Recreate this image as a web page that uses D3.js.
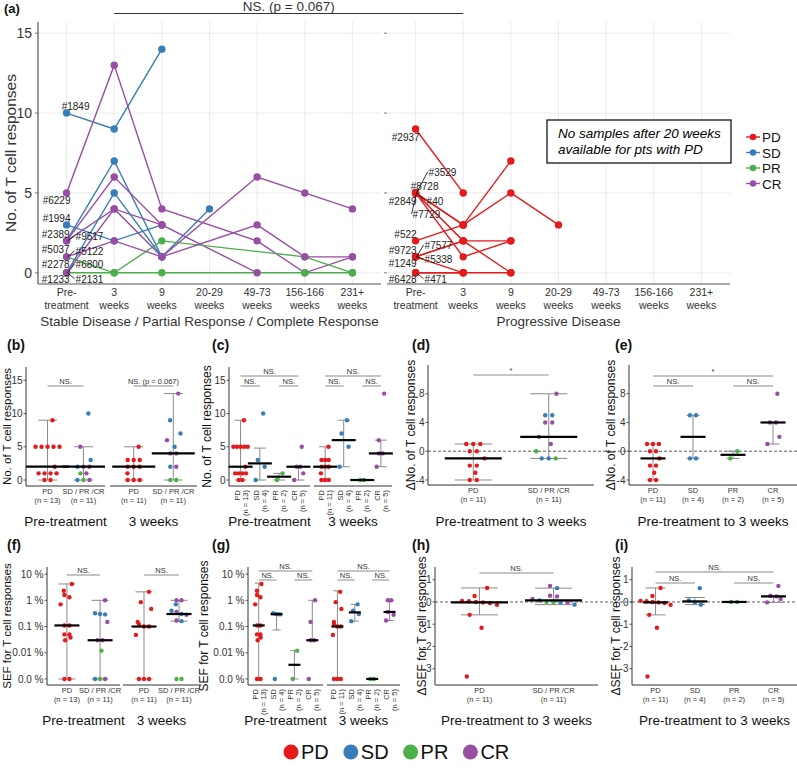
<!DOCTYPE html>
<html>
<head>
<meta charset="utf-8">
<script src="https://cdn.jsdelivr.net/npm/d3@7"></script>
<style>
  body { margin: 0; background: #fff; }
  svg { font-family: "Liberation Sans", Arial, sans-serif; }
</style>
</head>
<body>
<svg id="fig" width="797" height="769"></svg>
<script>
'use strict';

// ---------- data ----------
const groupNames = ['PD', 'SD', 'PR', 'CR'];
const groupColors = ['#E41A1C', '#377EB8', '#4DAF4A', '#984EA3'];
const timepoints = ['Pre-|treatment', '3|weeks', '9|weeks', '20-29|weeks', '49-73|weeks', '156-166|weeks', '231+|weeks'];

// (a) left: SD / PR / CR patients, no. of T cell responses per timepoint (null = no sample)
const respIds = ['#1849', '#6229', '#1994', '#2389', '#9517', '#5037', '#5122', '#2278', '#6800', '#1233', '#2131'];
const respGroup = ['SD', 'CR', 'SD', 'SD', 'CR', 'CR', 'PR', 'CR', 'PR', 'SD', 'CR'];
const respSeries = [
  [10, 9, 14, null, null, null, null],
  [5, 13, 4, null, 2, 0, 1],
  [3, 2, 3, null, null, null, null],
  [2, 7, 1, 4, null, null, null],
  [2, 6, 3, null, 0, null, null],
  [2, 4, 3, null, null, null, null],
  [1, 0, 2, null, null, 1, 0],
  [1, 2, 1, null, 3, 1, 1],
  [0, 0, 0, null, null, 0, 0],
  [0, 5, 1, null, null, null, null],
  [0, 4, 1, null, 6, 5, 4]
];

// (a) right: PD patients
const pdIds = ['#2937', '#3529', '#8728', '#2849', '#40', '#7729', '#522', '#7577', '#9723', '#5338', '#1249', '#6428', '#471'];
const pdSeries = [
  [9, 5],
  [5, 3, 7],
  [5, 3, 5, 3],
  [5, 1, 2],
  [5, 2, 0],
  [5],
  [2, 3],
  [1, 2, 2],
  [1, 0],
  [1, 2],
  [1],
  [0, 0, 0],
  [0, 0]
];

// whiskers (low, high)
const whiskB = [[0, 9], [0, 5], [0, 5], [0, 13]];
const whiskC = [[0, 9], [0, 4.8], [0, 1], [0, 2], [0, 5], [2, 9], [0, 0], [2, 6]];
const whiskD = [[-4, 1], [-1, 8]];
const whiskE = [[-4, 1], [-1, 5], [-1, 0], [1, 4]];

// SEF for T cell responses (%)
const pdPreSef = [4.2, 2.3, 1.6, 1.3, 0.7, 0.11, 0.11, 0.05, 0.05, 0.038, 0.03, 0, 0];
const sdPreSef = [0.3, 0.32, 0.29, 0];
const prPreSef = [0.012, 0];
const crPreSef = [1.0, 0.15, 0.03, 0.03, 0];
const pd3wSef = [2.1, 0.85, 0.47, 0.15, 0.12, 0.1, 0.1, 0.048, 0, 0, 0];
const sd3wSef = [0.7, 0.4, 0.3, 0.16];
const pr3wSef = [0, 0];
const cr3wSef = [1.0, 1.0, 0.36, 0.28, 0.17];
const whiskF = [[0, 4.2], [0, 1], [0, 2.1], [0.16, 1]];
const whiskG = [[0, 4.5], [0.074, 0.33], [0, 0.012], [0.03, 1], [0, 2.3], [0.16, 0.7], [0, 0], [0.17, 1]];

// change in SEF, pre-treatment to 3 weeks
const pdDeltaSef = [0.63, 0.27, 0.05, 0.03, 0.0, -0.02, -0.05, -0.13, -0.58, -1.16, -3.35];
const sdDeltaSef = [0.62, 0.07, -0.02, -0.12];
const prDeltaSef = [0, 0];
const crDeltaSef = [0.72, 0.28, 0.25, 0.13, -0.02];
const whiskH = [[-0.58, 0.63], [-0.12, 0.62]];
const whiskI = [[-0.58, 0.63], [-0.12, 0.2], [0, 0], [-0.02, 0.27]];

// ---------- helpers ----------
const svg = d3.select('#fig');
const colorOf = (g) => groupColors[groupNames.indexOf(g)];
const ink = '#333';

// label placement for (a): [dx, dy, anchor, leader]
const respLabelPos = [
  [9, -3, 'middle', 0], [-10, 11, 'middle', 0], [-10, -3, 'middle', 0], [3, -3, 'end', 0],
  [9, -1, 'start', 1], [3, 12, 'end', 0], [9, -2, 'start', 1], [3, 11, 'end', 0],
  [9, -5, 'start', 1], [3, 10, 'end', 0], [9, 10, 'start', 1]
];
const pdLabelPos = [
  [4, 12, 'end', 0], [13, -17, 'start', 1], [9, -3, 'middle', 0], [1, 12, 'end', 0],
  [11, 12, 'start', 1], [-3, 25, 'start', 1], [1, -3, 'end', 0], [9, -8, 'start', 1],
  [1, -3, 'end', 0], [9, 6, 'start', 1], [1, 10, 'end', 0], [1, 10, 'end', 0], [9, 10, 'start', 1]
];

function text(g, x, y, s, size, opts = {}) {
  return g.append('text')
    .attr('x', x).attr('y', y)
    .attr('font-size', size)
    .attr('fill', opts.fill || ink)
    .attr('text-anchor', opts.anchor || 'start')
    .attr('font-weight', opts.weight || null)
    .attr('font-style', opts.style || null)
    .text(s);
}

// ---------- panel (a) ----------
function drawPanelA() {
  const g = svg.append('g');
  const yA = d3.scaleLinear().domain([-0.7, 15.7]).range([284, 22]);
  const xL = d3.scalePoint().domain(d3.range(timepoints.length)).range([38, 381]).padding(0.6);
  const xR = d3.scalePoint().domain(d3.range(timepoints.length)).range([387, 730]).padding(0.6);
  const yTicks = [0, 5, 10, 15];

  [[xL, 38, 381], [xR, 387, 730]].forEach(([xs, x0, x1]) => {
    yTicks.forEach((t) => {
      g.append('line').attr('x1', x0).attr('x2', x1).attr('y1', yA(t)).attr('y2', yA(t))
        .attr('stroke', '#e6e6e6').attr('stroke-width', 0.8);
      g.append('line').attr('x1', x0 - 3).attr('x2', x0).attr('y1', yA(t)).attr('y2', yA(t))
        .attr('stroke', '#555').attr('stroke-width', 0.8);
    });
    timepoints.forEach((t, i) => {
      g.append('line').attr('x1', xs(i)).attr('x2', xs(i)).attr('y1', 22).attr('y2', 284)
        .attr('stroke', '#e6e6e6').attr('stroke-width', 0.8);
      const parts = t.split('|');
      text(g, xs(i), 296, parts[0], 10.5, { anchor: 'middle' });
      text(g, xs(i), 308.5, parts[1], 10.5, { anchor: 'middle' });
    });
    g.append('line').attr('x1', x0).attr('x2', x1).attr('y1', 284).attr('y2', 284)
      .attr('stroke', '#555').attr('stroke-width', 1.2);
  });
  g.append('line').attr('x1', 38).attr('x2', 38).attr('y1', 22).attr('y2', 284)
    .attr('stroke', '#555').attr('stroke-width', 1.2);
  yTicks.forEach((t) => text(g, 32, yA(t) + 5, t, 14, { anchor: 'end' }));

  text(g, 0, 0, 'No. of T cell responses', 15.5, { anchor: 'middle' })
    .attr('transform', `translate(16,${(22 + 284) / 2}) rotate(-90)`);
  text(g, (38 + 381) / 2, 326, 'Stable Disease / Partial Response / Complete Response', 13.5, { anchor: 'middle' });
  text(g, (387 + 730) / 2, 326, 'Progressive Disease', 13.5, { anchor: 'middle' });

  const line = d3.line().x((d) => d.x).y((d) => d.y);
  const toPts = (series, xs) => series.map((v, i) => ({ v, i }))
    .filter((d) => d.v != null)
    .map((d) => ({ x: xs(d.i), y: yA(d.v) }));

  const sets = [
    { ids: respIds, series: respSeries, groups: respGroup, xs: xL, lab: respLabelPos },
    { ids: pdIds, series: pdSeries, groups: pdIds.map(() => 'PD'), xs: xR, lab: pdLabelPos }
  ];
  sets.forEach((s) => {
    s.series.forEach((ser, k) => {
      g.append('path').attr('d', line(toPts(ser, s.xs)))
        .attr('fill', 'none').attr('stroke', colorOf(s.groups[k])).attr('stroke-width', 1.4);
    });
  });
  sets.forEach((s) => {
    s.series.forEach((ser, k) => {
      toPts(ser, s.xs).forEach((p) => {
        g.append('circle').attr('cx', p.x).attr('cy', p.y).attr('r', 3.7)
          .attr('fill', colorOf(s.groups[k]));
      });
    });
  });
  sets.forEach((s) => {
    s.series.forEach((ser, k) => {
      const px = s.xs(0), py = yA(ser[0]);
      const [dx, dy, anchor, leader] = s.lab[k];
      if (leader) {
        g.append('line').attr('x1', px + 1).attr('y1', py)
          .attr('x2', px + dx - 1).attr('y2', py + dy - 4)
          .attr('stroke', '#000').attr('stroke-width', 0.8);
      }
      text(g, px + dx, py + dy, s.ids[k], 10, { anchor, fill: '#222' });
    });
  });

  // significance across timepoint 3 weeks
  g.append('line').attr('x1', xL(1)).attr('x2', xR(1)).attr('y1', 13.5).attr('y2', 13.5)
    .attr('stroke', '#333').attr('stroke-width', 1);
  text(g, (xL(1) + xR(1)) / 2, 10.5, 'NS. (p = 0.067)', 13.5, { anchor: 'middle' });

  // note box
  g.append('rect').attr('x', 547).attr('y', 120).attr('width', 184).attr('height', 43)
    .attr('fill', '#fff').attr('stroke', '#000').attr('stroke-width', 1.2);
  text(g, 558, 138, 'No samples after 20 weeks', 13.5, { style: 'italic', fill: '#000' });
  text(g, 558, 153.5, 'available for pts with PD', 13.5, { style: 'italic', fill: '#000' });

  // legend
  groupNames.forEach((name, i) => {
    const yy = 137 + i * 15.5;
    g.append('line').attr('x1', 746).attr('x2', 760).attr('y1', yy).attr('y2', yy)
      .attr('stroke', groupColors[i]).attr('stroke-width', 1.4);
    g.append('circle').attr('cx', 753).attr('cy', yy).attr('r', 3.2).attr('fill', groupColors[i]);
    text(g, 762, yy + 5, name, 13.5, { fill: '#111' });
  });

  text(g, 4, 13, '(a)', 13, { weight: 'bold', fill: '#111' });
}

// ---------- dot / median panels ----------
const jitterPattern = [0.55, -0.35, 0.8, -0.7, 0.15, -0.9, 0.4, -0.2, 0.7, -0.5, 0.3, -0.6];

function layoutPoints(pts, cx, spacing, spread) {
  const sorted = pts.slice().sort((a, b) => a.py - b.py);
  const clusters = [];
  let cur = [];
  sorted.forEach((p) => {
    if (cur.length && p.py - cur[cur.length - 1].py > 2.5) { clusters.push(cur); cur = []; }
    cur.push(p);
  });
  if (cur.length) clusters.push(cur);
  clusters.forEach((cl, k) => {
    const m = cl.length;
    const shift = m === 1 ? jitterPattern[k % jitterPattern.length] * spread : 0;
    cl.forEach((p, j) => { p.px = cx + (j - (m - 1) / 2) * spacing + shift; });
  });
}

function drawDotPanel(p) {
  const g = svg.append('g');
  const tf = p.transform || ((v) => v);
  const y = d3.scaleLinear().domain(p.yDomain).range([p.bottom, p.top]);
  const ax = p.facets[0].x0;

  g.append('line').attr('x1', ax).attr('x2', ax).attr('y1', p.top).attr('y2', p.bottom)
    .attr('stroke', ink).attr('stroke-width', 1);
  p.yTicks.forEach((t, i) => {
    g.append('line').attr('x1', ax - 2.5).attr('x2', ax).attr('y1', y(t)).attr('y2', y(t))
      .attr('stroke', ink).attr('stroke-width', 0.8);
    text(g, ax - 3.5, y(t) + 3.6, p.yTickLabels ? p.yTickLabels[i] : t, 10, { anchor: 'end' });
  });
  text(g, 0, 0, p.yTitle, p.yTitleSize || 12, { anchor: 'middle', fill: '#111' })
    .attr('transform', `translate(${p.yTitleX},${(p.top + p.bottom) / 2}) rotate(-90)`);

  if (p.zeroLine) {
    g.append('line').attr('x1', ax).attr('x2', p.zeroTo).attr('y1', y(0)).attr('y2', y(0))
      .attr('stroke', ink).attr('stroke-width', 0.8).attr('stroke-dasharray', '3,2');
  }

  p.facets.forEach((f) => {
    const x = d3.scalePoint().domain(d3.range(f.cats.length)).range([f.x0, f.x1]).padding(0.6);
    g.append('line').attr('x1', f.x0).attr('x2', f.x1).attr('y1', p.bottom).attr('y2', p.bottom)
      .attr('stroke', ink).attr('stroke-width', 1);

    f.cats.forEach((c, i) => {
      const cx = x(i);
      const [lo, hi] = c.whisk;
      g.append('line').attr('x1', cx).attr('x2', cx).attr('y1', y(tf(lo))).attr('y2', y(tf(hi)))
        .attr('stroke', '#8a8a8a').attr('stroke-width', 1);
      [lo, hi].forEach((v) => {
        g.append('line').attr('x1', cx - p.capW / 2).attr('x2', cx + p.capW / 2)
          .attr('y1', y(tf(v))).attr('y2', y(tf(v)))
          .attr('stroke', '#8a8a8a').attr('stroke-width', 1);
      });

      const pts = c.vals.map((v, k) => ({ v, col: c.cols[k], py: y(tf(v)) }));
      layoutPoints(pts, cx, p.spacing, p.spread);
      pts.forEach((q) => {
        g.append('circle').attr('cx', q.px).attr('cy', q.py).attr('r', p.r).attr('fill', q.col);
      });

      const med = d3.median(c.vals.map(tf));
      g.append('line').attr('x1', cx - p.medW / 2).attr('x2', cx + p.medW / 2)
        .attr('y1', y(med)).attr('y2', y(med))
        .attr('stroke', '#000').attr('stroke-width', 2.2);

      const nLab = `(n = ${c.vals.length})`;
      if (p.rotate) {
        text(g, 0, 0, c.name, 7.5, { anchor: 'end' })
          .attr('transform', `translate(${cx - 1},${p.bottom + 4}) rotate(-90)`);
        text(g, 0, 0, nLab, 7.5, { anchor: 'end' })
          .attr('transform', `translate(${cx + 7},${p.bottom + 4}) rotate(-90)`);
      } else {
        text(g, cx, p.bottom + 8, c.name, 7.5, { anchor: 'middle' });
        text(g, cx, p.bottom + 16.5, nLab, 7.5, { anchor: 'middle' });
      }
    });

    text(g, (f.x0 + f.x1) / 2, p.titleY, f.title, 13.5, { anchor: 'middle', fill: '#111' });

    (f.sig || []).forEach((s) => {
      const ly = p.sigY[s.level];
      g.append('line').attr('x1', x(s.a)).attr('x2', x(s.b)).attr('y1', ly).attr('y2', ly)
        .attr('stroke', '#8a8a8a').attr('stroke-width', 1);
      text(g, (x(s.a) + x(s.b)) / 2, ly - 2, s.label, 7.5, { anchor: 'middle' });
    });
  });

  text(g, p.letter[1], p.letter[2], p.letter[0], 14, { weight: 'bold', fill: '#111' });
}

// values taken from panel (a)
const pdPre = pdSeries.map((s) => s[0]);
const pd3w = pdSeries.filter((s) => s[1] != null).map((s) => s[1]);
const pdDelta = pdSeries.filter((s) => s[1] != null).map((s) => s[1] - s[0]);
const byGroup = (grp, fn) => respSeries.filter((s, k) => respGroup[k] === grp && fn(s) != null).map(fn);
const respColsOrder = ['SD', 'PR', 'CR'];
const joined = (fn) => {
  const vals = [], cols = [];
  respColsOrder.forEach((grp) => byGroup(grp, fn).forEach((v) => { vals.push(v); cols.push(colorOf(grp)); }));
  return { vals, cols };
};
const pre = (s) => s[0];
const w3 = (s) => s[1];
const dlt = (s) => (s[1] == null ? null : s[1] - s[0]);
const red = (vals) => vals.map(() => colorOf('PD'));
const cat = (name, vals, grp, whisk) => ({ name, vals, cols: vals.map(() => colorOf(grp)), whisk });
const catJ = (name, j, whisk) => ({ name, vals: j.vals, cols: j.cols, whisk });
const pctT = (v) => Math.log10(Math.max(v, 0.001));
const joinSef = (a, b, c) => ({
  vals: a.concat(b, c),
  cols: a.map(() => colorOf('SD')).concat(b.map(() => colorOf('PR')), c.map(() => colorOf('CR')))
});

drawPanelA();

const countTicks = [0, 5, 10, 15];
const deltaTicks = [-4, 0, 4, 8];
const sefTicks = [-3, -2, -1, 0, 1];
const sefTickLabels = ['0.0 %', '0.01 %', '0.1 %', '1 %', '10 %'];
const dSefTicks = [-3, -2, -1, 0, 1];
const sig3 = [{ a: 0, b: 3, level: 0, label: 'NS.' }, { a: 0, b: 1, level: 1, label: 'NS.' }, { a: 2, b: 3, level: 1, label: 'NS.' }];

// (b)
drawDotPanel({
  top: 367, bottom: 486, yDomain: [-0.9, 17], yTicks: countTicks, yTitle: 'No. of T cell responses', yTitleX: 10.5, yTitleSize: 11.5,
  titleY: 526, medW: 43, capW: 19, spacing: 6, spread: 9, r: 2.2, sigY: [386], letter: ['(b)', 7, 350],
  facets: [
    { x0: 26, x1: 105, title: 'Pre-treatment',
      cats: [catJ('PD', { vals: pdPre, cols: red(pdPre) }, whiskB[0]), catJ('SD / PR /CR', joined(pre), whiskB[1])],
      sig: [{ a: 0, b: 1, level: 0, label: 'NS.' }] },
    { x0: 110, x1: 197, title: '3 weeks',
      cats: [catJ('PD', { vals: pd3w, cols: red(pd3w) }, whiskB[2]), catJ('SD / PR /CR', joined(w3), whiskB[3])],
      sig: [{ a: 0, b: 1, level: 0, label: 'NS. (p = 0.067)' }] }
  ]
});

// (c)
drawDotPanel({
  top: 367, bottom: 486, yDomain: [-0.9, 17], yTicks: countTicks, yTitle: 'No. of T cell responses', yTitleX: 211,
  titleY: 526, medW: 24, capW: 12, spacing: 3.6, spread: 6, r: 2.2, sigY: [376, 386], letter: ['(c)', 212, 350],
  rotate: true,
  facets: [
    { x0: 229, x1: 310, title: 'Pre-treatment',
      cats: [cat('PD', pdPre, 'PD', whiskC[0]), cat('SD', byGroup('SD', pre), 'SD', whiskC[1]),
        cat('PR', byGroup('PR', pre), 'PR', whiskC[2]), cat('CR', byGroup('CR', pre), 'CR', whiskC[3])],
      sig: sig3 },
    { x0: 314, x1: 392, title: '3 weeks',
      cats: [cat('PD', pd3w, 'PD', whiskC[4]), cat('SD', byGroup('SD', w3), 'SD', whiskC[5]),
        cat('PR', byGroup('PR', w3), 'PR', whiskC[6]), cat('CR', byGroup('CR', w3), 'CR', whiskC[7])],
      sig: sig3 }
  ]
});

// (d)
drawDotPanel({
  top: 365, bottom: 485, yDomain: [-4.7, 12], yTicks: deltaTicks, yTitle: '\u0394No. of T cell responses', yTitleX: 415,
  titleY: 526, medW: 57, capW: 37, spacing: 7, spread: 14, r: 2.2, sigY: [375], letter: ['(d)', 412, 350],
  zeroLine: true, zeroTo: 629,
  facets: [
    { x0: 428, x1: 594, title: 'Pre-treatment to 3 weeks',
      cats: [catJ('PD', { vals: pdDelta, cols: red(pdDelta) }, whiskD[0]), catJ('SD / PR /CR', joined(dlt), whiskD[1])],
      sig: [{ a: 0, b: 1, level: 0, label: '*' }] }
  ]
});

// (e)
drawDotPanel({
  top: 365, bottom: 485, yDomain: [-4.7, 12], yTicks: deltaTicks, yTitle: '\u0394No. of T cell responses', yTitleX: 615,
  titleY: 526, medW: 25, capW: 13, spacing: 6, spread: 8, r: 2.2, sigY: [376, 386], letter: ['(e)', 615, 350],
  zeroLine: true, zeroTo: 797,
  facets: [
    { x0: 629, x1: 797, title: 'Pre-treatment to 3 weeks',
      cats: [cat('PD', pdDelta, 'PD', whiskE[0]), cat('SD', byGroup('SD', dlt), 'SD', whiskE[1]),
        cat('PR', byGroup('PR', dlt), 'PR', whiskE[2]), cat('CR', byGroup('CR', dlt), 'CR', whiskE[3])],
      sig: [{ a: 0, b: 3, level: 0, label: '*' }, { a: 0, b: 1, level: 1, label: 'NS.' }, { a: 2, b: 3, level: 1, label: 'NS.' }] }
  ]
});

// (f)
drawDotPanel({
  top: 567, bottom: 685, yDomain: [-3.23, 1.27], yTicks: sefTicks, yTickLabels: sefTickLabels, transform: pctT,
  yTitle: 'SEF for T cell responses', yTitleX: 10.5, yTitleSize: 11.5,
  titleY: 725, medW: 25, capW: 17, spacing: 5, spread: 9, r: 2.2, sigY: [575], letter: ['(f)', 7, 550],
  facets: [
    { x0: 47, x1: 120, title: 'Pre-treatment',
      cats: [catJ('PD', { vals: pdPreSef, cols: red(pdPreSef) }, whiskF[0]), catJ('SD / PR /CR', joinSef(sdPreSef, prPreSef, crPreSef), whiskF[1])],
      sig: [{ a: 0, b: 1, level: 0, label: 'NS.' }] },
    { x0: 123, x1: 200, title: '3 weeks',
      cats: [catJ('PD', { vals: pd3wSef, cols: red(pd3wSef) }, whiskF[2]), catJ('SD / PR /CR', joinSef(sd3wSef, pr3wSef, cr3wSef), whiskF[3])],
      sig: [{ a: 0, b: 1, level: 0, label: 'NS.' }] }
  ]
});

// (g)
drawDotPanel({
  top: 567, bottom: 685, yDomain: [-3.23, 1.27], yTicks: sefTicks, yTickLabels: sefTickLabels, transform: pctT,
  yTitle: 'SEF for T cell responses', yTitleX: 208,
  titleY: 725, medW: 12, capW: 8, spacing: 3.4, spread: 5, r: 2.2, sigY: [571, 580], letter: ['(g)', 212, 550],
  rotate: true,
  facets: [
    { x0: 248, x1: 323, title: 'Pre-treatment',
      cats: [cat('PD', pdPreSef, 'PD', whiskG[0]), cat('SD', sdPreSef, 'SD', whiskG[1]),
        cat('PR', prPreSef, 'PR', whiskG[2]), cat('CR', crPreSef, 'CR', whiskG[3])],
      sig: sig3 },
    { x0: 327, x1: 400, title: '3 weeks',
      cats: [cat('PD', pd3wSef, 'PD', whiskG[4]), cat('SD', sd3wSef, 'SD', whiskG[5]),
        cat('PR', pr3wSef, 'PR', whiskG[6]), cat('CR', cr3wSef, 'CR', whiskG[7])],
      sig: sig3 }
  ]
});

// (h)
drawDotPanel({
  top: 567, bottom: 685, yDomain: [-3.73, 1.57], yTicks: dSefTicks, yTitle: '\u0394SEF for T cell responses', yTitleX: 426,
  titleY: 725, medW: 57, capW: 37, spacing: 7, spread: 14, r: 2.2, sigY: [573], letter: ['(h)', 412, 550],
  zeroLine: true, zeroTo: 632,
  facets: [
    { x0: 435, x1: 598, title: 'Pre-treatment to 3 weeks',
      cats: [catJ('PD', { vals: pdDeltaSef, cols: red(pdDeltaSef) }, whiskH[0]), catJ('SD / PR /CR', joinSef(sdDeltaSef, prDeltaSef, crDeltaSef), whiskH[1])],
      sig: [{ a: 0, b: 1, level: 0, label: 'NS.' }] }
  ]
});

// (i)
drawDotPanel({
  top: 567, bottom: 685, yDomain: [-3.73, 1.57], yTicks: dSefTicks, yTitle: '\u0394SEF for T cell responses', yTitleX: 620,
  titleY: 725, medW: 25, capW: 20, spacing: 6, spread: 9, r: 2.2, sigY: [572, 583], letter: ['(i)', 615, 550],
  zeroLine: true, zeroTo: 797,
  facets: [
    { x0: 632, x1: 797, title: 'Pre-treatment to 3 weeks',
      cats: [cat('PD', pdDeltaSef, 'PD', whiskI[0]), cat('SD', sdDeltaSef, 'SD', whiskI[1]),
        cat('PR', prDeltaSef, 'PR', whiskI[2]), cat('CR', crDeltaSef, 'CR', whiskI[3])],
      sig: sig3 }
  ]
});

// bottom legend
(function drawLegend() {
  const g = svg.append('g');
  let x = 291;
  groupNames.forEach((name, i) => {
    g.append('circle').attr('cx', x).attr('cy', 752).attr('r', 7.5).attr('fill', groupColors[i]);
    const t = text(g, x + 10, 759, name, 20, { fill: '#111' });
    x += 10 + t.node().getComputedTextLength() + 22;
  });
})();
</script>
</body>
</html>
